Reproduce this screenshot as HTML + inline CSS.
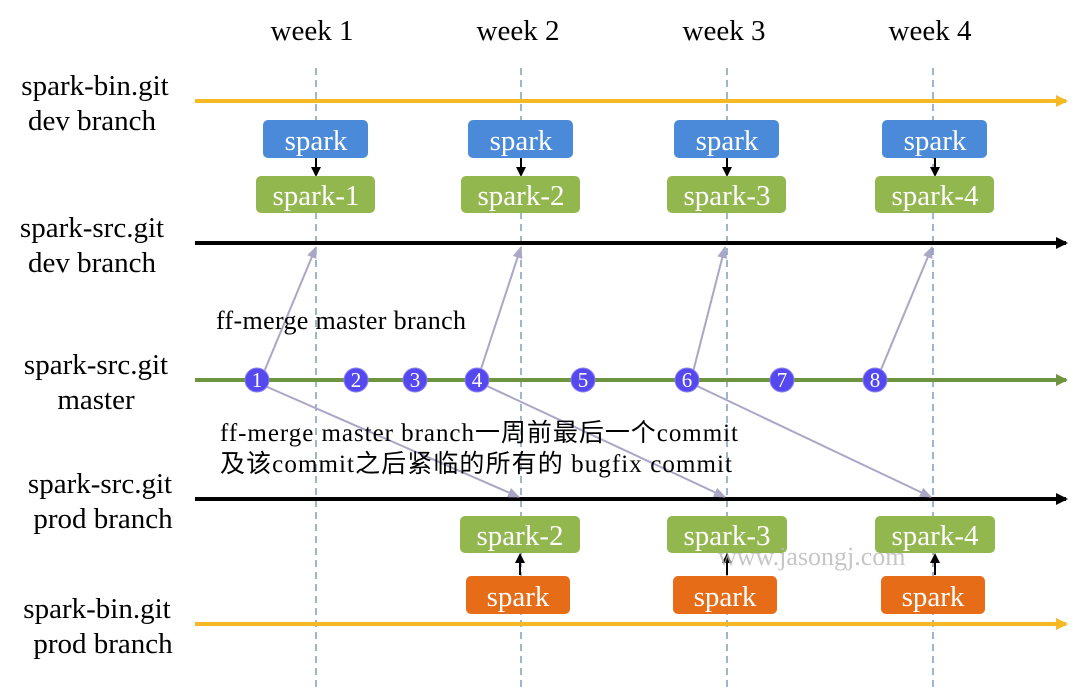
<!DOCTYPE html>
<html><head><style>body{margin:0;background:#fff}svg{display:block}text{font-family:"Liberation Serif",serif}.cjk{font-family:"Noto Sans CJK SC",sans-serif}</style></head><body>
<svg width="1080" height="687" xmlns="http://www.w3.org/2000/svg">
<defs>
<marker id="ay" markerWidth="12" markerHeight="12" refX="10" refY="6" orient="auto" markerUnits="userSpaceOnUse"><path d="M0,0 L12,6 L0,12z" fill="#f5b923"/></marker>
<marker id="ak" markerWidth="12" markerHeight="12" refX="10" refY="6" orient="auto" markerUnits="userSpaceOnUse"><path d="M0,0 L12,6 L0,12z" fill="#000"/></marker>
<marker id="ag" markerWidth="12" markerHeight="12" refX="10" refY="6" orient="auto" markerUnits="userSpaceOnUse"><path d="M0,0 L12,6 L0,12z" fill="#6f9440"/></marker>
<marker id="ap" markerWidth="12" markerHeight="12" refX="11" refY="6" orient="auto" markerUnits="userSpaceOnUse"><path d="M0,1 L12,6 L0,11z" fill="#aaa6c8"/></marker>
<marker id="as" markerWidth="10" markerHeight="10" refX="8" refY="5" orient="auto" markerUnits="userSpaceOnUse"><path d="M0,0 L10,5 L0,10z" fill="#000"/></marker>
</defs>
<g font-size="29" text-anchor="middle" fill="#000">
<text x="312" y="40">week 1</text><text x="518" y="40">week 2</text><text x="724" y="40">week 3</text><text x="930" y="40">week 4</text>
</g>
<g font-size="29" text-anchor="middle">
<text x="95" y="95">spark-bin.git</text><text x="92" y="130">dev branch</text>
<text x="92" y="237">spark-src.git</text><text x="92" y="272">dev branch</text>
<text x="96" y="374">spark-src.git</text><text x="96" y="409">master</text>
<text x="100" y="493">spark-src.git</text><text x="103" y="528">prod branch</text>
<text x="97" y="618">spark-bin.git</text><text x="103" y="653">prod branch</text>
</g>
<g stroke="#6a8db5" stroke-width="1.3" stroke-dasharray="7,5">
<line x1="316" y1="68" x2="316" y2="687"/><line x1="521" y1="68" x2="521" y2="687"/><line x1="727" y1="68" x2="727" y2="687"/><line x1="933" y1="68" x2="933" y2="687"/>
</g>
<line x1="195" y1="101" x2="1066" y2="101" stroke="#f5b923" stroke-width="4" marker-end="url(#ay)"/>
<line x1="195" y1="243" x2="1066" y2="243" stroke="#000" stroke-width="4" marker-end="url(#ak)"/>
<line x1="195" y1="380" x2="1066" y2="380" stroke="#6f9440" stroke-width="4" marker-end="url(#ag)"/>
<line x1="195" y1="499" x2="1066" y2="499" stroke="#000" stroke-width="4" marker-end="url(#ak)"/>
<line x1="195" y1="624" x2="1066" y2="624" stroke="#f5b923" stroke-width="4" marker-end="url(#ay)"/>
<g font-size="29" text-anchor="middle" fill="#fff">
<g transform="translate(316,0)"><rect x="-53" y="120" width="105" height="38" rx="5" fill="#4a8ad8"/><text x="0" y="150">spark</text><line x1="0" y1="158" x2="0" y2="175" stroke="#000" stroke-width="2" marker-end="url(#as)"/><rect x="-60" y="176" width="119" height="37" rx="5" fill="#93b74f"/><text x="0" y="205">spark-1</text></g>
<g transform="translate(521,0)"><rect x="-53" y="120" width="105" height="38" rx="5" fill="#4a8ad8"/><text x="0" y="150">spark</text><line x1="0" y1="158" x2="0" y2="175" stroke="#000" stroke-width="2" marker-end="url(#as)"/><rect x="-60" y="176" width="119" height="37" rx="5" fill="#93b74f"/><text x="0" y="205">spark-2</text></g>
<g transform="translate(727,0)"><rect x="-53" y="120" width="105" height="38" rx="5" fill="#4a8ad8"/><text x="0" y="150">spark</text><line x1="0" y1="158" x2="0" y2="175" stroke="#000" stroke-width="2" marker-end="url(#as)"/><rect x="-60" y="176" width="119" height="37" rx="5" fill="#93b74f"/><text x="0" y="205">spark-3</text></g>
<g transform="translate(935,0)"><rect x="-53" y="120" width="105" height="38" rx="5" fill="#4a8ad8"/><text x="0" y="150">spark</text><line x1="0" y1="158" x2="0" y2="175" stroke="#000" stroke-width="2" marker-end="url(#as)"/><rect x="-60" y="176" width="119" height="37" rx="5" fill="#93b74f"/><text x="0" y="205">spark-4</text></g>
<g transform="translate(520,0)"><rect x="-60" y="516" width="120" height="37" rx="5" fill="#93b74f"/><text x="0" y="545">spark-2</text><line x1="0" y1="575" x2="0" y2="555" stroke="#000" stroke-width="2" marker-end="url(#as)"/><rect x="-54" y="576" width="104" height="38" rx="5" fill="#e66c17"/><text x="-2" y="606">spark</text></g>
<g transform="translate(727,0)"><rect x="-60" y="516" width="120" height="37" rx="5" fill="#93b74f"/><text x="0" y="545">spark-3</text><line x1="0" y1="575" x2="0" y2="555" stroke="#000" stroke-width="2" marker-end="url(#as)"/><rect x="-54" y="576" width="104" height="38" rx="5" fill="#e66c17"/><text x="-2" y="606">spark</text></g>
<g transform="translate(935,0)"><rect x="-60" y="516" width="120" height="37" rx="5" fill="#93b74f"/><text x="0" y="545">spark-4</text><line x1="0" y1="575" x2="0" y2="555" stroke="#000" stroke-width="2" marker-end="url(#as)"/><rect x="-54" y="576" width="104" height="38" rx="5" fill="#e66c17"/><text x="-2" y="606">spark</text></g>
</g>
<g stroke="#aaa6c8" stroke-width="2" marker-end="url(#ap)">
<line x1="264" y1="372" x2="316" y2="247"/><line x1="480" y1="372" x2="521" y2="247"/><line x1="693" y1="372" x2="725" y2="247"/><line x1="880" y1="372" x2="932" y2="247"/>
<line x1="265" y1="386" x2="519" y2="497"/><line x1="487" y1="386" x2="725" y2="497"/><line x1="697" y1="386" x2="931" y2="497"/>
</g>
<g fill="#5548ef" stroke="#8a82f4" stroke-width="1">
<circle cx="257" cy="380" r="12"/><circle cx="356" cy="380" r="12"/><circle cx="415" cy="380" r="12"/><circle cx="477" cy="380" r="12"/><circle cx="583" cy="380" r="12"/><circle cx="687" cy="380" r="12"/><circle cx="782" cy="380" r="12"/><circle cx="875" cy="380" r="12"/>
</g>
<g font-size="21" fill="#fff" text-anchor="middle">
<text x="257" y="387">1</text><text x="356" y="387">2</text><text x="415" y="387">3</text><text x="477" y="387">4</text><text x="583" y="387">5</text><text x="687" y="387">6</text><text x="782" y="387">7</text><text x="875" y="387">8</text>
</g>
<text x="216" y="329" font-size="26" textLength="250">ff-merge master branch</text>
<text x="220" y="441" font-size="25" textLength="518">ff-merge master branch<tspan class="cjk">一周前最后一个</tspan>commit</text>
<text x="220" y="472" font-size="25" textLength="512"><tspan class="cjk">及该</tspan>commit<tspan class="cjk">之后紧临的所有的</tspan> bugfix commit</text>
<text x="718" y="565" font-size="26" fill="#b8b8b8" opacity="0.8">www.jasongj.com</text>
</svg>
</body></html>
